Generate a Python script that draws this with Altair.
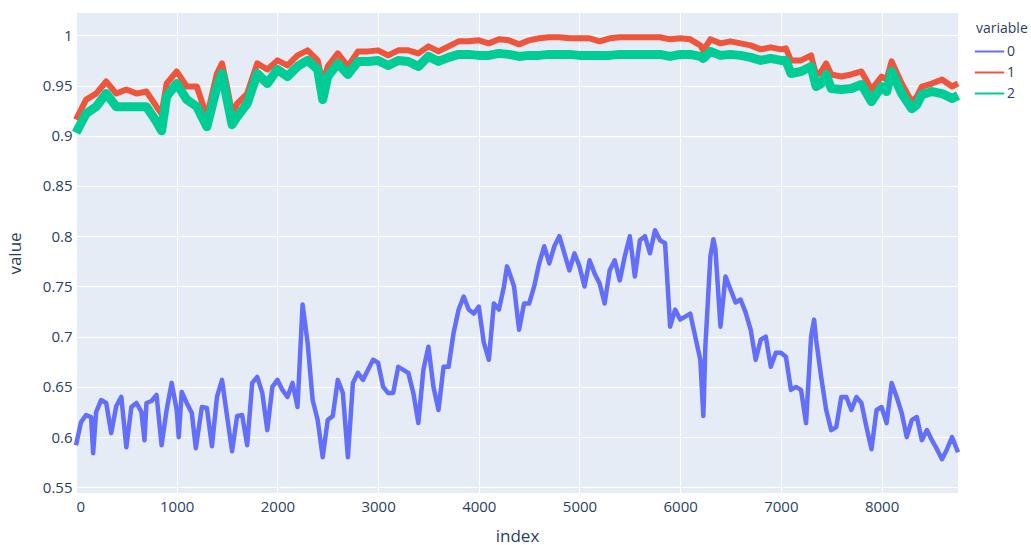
import altair as alt
import pandas as pd

# ---- data ----
blue_idx = [0, 50, 100, 150, 170, 200, 250, 300, 350, 400, 450, 500, 550, 600, 650, 680, 700, 750, 800, 850,
            900, 950, 1000, 1020, 1050, 1100, 1150, 1190, 1250, 1300, 1350, 1400, 1450, 1500, 1550, 1600, 1650,
            1700, 1750, 1800, 1850, 1900, 1950, 2000, 2050, 2100, 2150, 2200, 2250, 2300, 2350, 2400, 2450, 2500,
            2550, 2600, 2650, 2700, 2750, 2800, 2850, 2900, 2950, 3000, 3050, 3100, 3150, 3200, 3250, 3300, 3350,
            3400, 3450, 3500, 3550, 3600, 3650, 3700, 3750, 3800, 3850, 3900, 3950, 4000, 4050, 4100, 4150, 4200,
            4250, 4280, 4300, 4350, 4400, 4450, 4500, 4550, 4600, 4650, 4700, 4750, 4800, 4850, 4900, 4950, 5000,
            5050, 5100, 5150, 5200, 5250, 5300, 5350, 5400, 5450, 5500, 5550, 5600, 5650, 5700, 5750, 5800, 5850,
            5900, 5950, 6000, 6050, 6100, 6150, 6200, 6230, 6250, 6300, 6330, 6350, 6400, 6450, 6500, 6550, 6600,
            6650, 6700, 6750, 6800, 6850, 6900, 6950, 7000, 7050, 7100, 7150, 7200, 7250, 7300, 7330, 7350, 7400,
            7450, 7500, 7550, 7600, 7650, 7700, 7750, 7800, 7850, 7900, 7950, 8000, 8050, 8100, 8150, 8200, 8250,
            8300, 8350, 8400, 8450, 8500, 8550, 8600, 8650, 8700, 8759]
blue_val = [0.592, 0.615, 0.622, 0.620, 0.584, 0.625, 0.637, 0.634, 0.604, 0.631, 0.640, 0.590, 0.630, 0.634,
            0.625, 0.597, 0.634, 0.636, 0.642, 0.592, 0.627, 0.654, 0.627, 0.600, 0.645, 0.634, 0.624, 0.589,
            0.630, 0.629, 0.591, 0.640, 0.657, 0.621, 0.586, 0.621, 0.622, 0.592, 0.654, 0.660, 0.644, 0.607,
            0.650, 0.657, 0.647, 0.640, 0.654, 0.630, 0.732, 0.694, 0.637, 0.617, 0.580, 0.617, 0.621, 0.657,
            0.644, 0.580, 0.654, 0.664, 0.657, 0.667, 0.677, 0.674, 0.650, 0.644, 0.644, 0.670, 0.667, 0.664,
            0.644, 0.614, 0.667, 0.690, 0.650, 0.627, 0.670, 0.670, 0.704, 0.727, 0.740, 0.727, 0.723, 0.730,
            0.694, 0.677, 0.733, 0.727, 0.750, 0.770, 0.765, 0.750, 0.707, 0.733, 0.733, 0.750, 0.773, 0.790,
            0.773, 0.790, 0.800, 0.783, 0.766, 0.783, 0.770, 0.750, 0.776, 0.763, 0.753, 0.733, 0.766, 0.776,
            0.756, 0.780, 0.800, 0.760, 0.796, 0.800, 0.783, 0.806, 0.796, 0.793, 0.710, 0.727, 0.717, 0.720,
            0.723, 0.700, 0.677, 0.621, 0.690, 0.780, 0.797, 0.787, 0.710, 0.760, 0.747, 0.734, 0.737, 0.724,
            0.707, 0.677, 0.697, 0.700, 0.670, 0.684, 0.684, 0.680, 0.647, 0.650, 0.647, 0.614, 0.700, 0.717,
            0.697, 0.660, 0.627, 0.607, 0.610, 0.640, 0.640, 0.627, 0.640, 0.634, 0.610, 0.588, 0.627, 0.630,
            0.614, 0.654, 0.640, 0.624, 0.600, 0.617, 0.620, 0.597, 0.607, 0.597, 0.588, 0.578, 0.588, 0.600,
            0.585]

top_idx = [0, 100, 200, 300, 400, 500, 600, 700, 800, 850, 900, 1000, 1100, 1200, 1300, 1400, 1450, 1500, 1550,
           1600, 1700, 1800, 1900, 2000, 2100, 2200, 2300, 2400, 2450, 2500, 2600, 2700, 2800, 2900, 3000, 3100,
           3200, 3300, 3400, 3500, 3600, 3700, 3800, 3900, 4000, 4100, 4200, 4300, 4400, 4500, 4600, 4700, 4800,
           4900, 5000, 5100, 5200, 5300, 5400, 5500, 5600, 5700, 5800, 5900, 6000, 6100, 6200, 6230, 6300, 6400,
           6500, 6600, 6700, 6800, 6900, 7000, 7050, 7100, 7200, 7300, 7350, 7400, 7450, 7500, 7600, 7700, 7800,
           7900, 8000, 8050, 8100, 8200, 8300, 8350, 8400, 8500, 8600, 8700, 8759]
red_val = [0.916, 0.936, 0.942, 0.954, 0.942, 0.946, 0.942, 0.944, 0.929, 0.922, 0.952, 0.964, 0.949, 0.949,
           0.919, 0.962, 0.972, 0.949, 0.922, 0.932, 0.942, 0.972, 0.966, 0.975, 0.970, 0.980, 0.985, 0.975,
           0.952, 0.969, 0.982, 0.969, 0.984, 0.984, 0.985, 0.980, 0.985, 0.985, 0.982, 0.989, 0.984, 0.989,
           0.994, 0.994, 0.995, 0.992, 0.996, 0.995, 0.991, 0.995, 0.997, 0.998, 0.998, 0.997, 0.997, 0.997,
           0.994, 0.997, 0.998, 0.998, 0.998, 0.998, 0.998, 0.996, 0.997, 0.996, 0.990, 0.985, 0.996, 0.992,
           0.994, 0.992, 0.990, 0.986, 0.988, 0.986, 0.987, 0.975, 0.975, 0.980, 0.960, 0.964, 0.972, 0.961,
           0.959, 0.961, 0.964, 0.946, 0.959, 0.956, 0.974, 0.952, 0.934, 0.939, 0.949, 0.952, 0.956, 0.949,
           0.952]
green_val = [0.903, 0.922, 0.929, 0.942, 0.929, 0.929, 0.929, 0.929, 0.914, 0.905, 0.939, 0.952, 0.936, 0.929,
             0.909, 0.949, 0.962, 0.936, 0.911, 0.919, 0.932, 0.962, 0.952, 0.966, 0.959, 0.969, 0.975, 0.966,
             0.936, 0.959, 0.972, 0.961, 0.974, 0.974, 0.975, 0.970, 0.975, 0.974, 0.969, 0.979, 0.974, 0.978,
             0.981, 0.981, 0.980, 0.980, 0.982, 0.981, 0.979, 0.980, 0.980, 0.981, 0.981, 0.981, 0.980, 0.980,
             0.980, 0.980, 0.981, 0.981, 0.981, 0.981, 0.981, 0.979, 0.981, 0.981, 0.979, 0.977, 0.984, 0.980,
             0.981, 0.980, 0.978, 0.975, 0.977, 0.975, 0.975, 0.962, 0.964, 0.969, 0.949, 0.952, 0.961, 0.947,
             0.946, 0.947, 0.951, 0.934, 0.949, 0.944, 0.964, 0.942, 0.927, 0.931, 0.941, 0.944, 0.942, 0.937,
             0.940]

series_names = ["0", "1", "2"]
series_colors = ["#636EFA", "#EF553B", "#00CC96"]
y_ticks = [0.55, 0.6, 0.65, 0.7, 0.75, 0.8, 0.85, 0.9, 0.95, 1.0]
x_ticks = [0, 1000, 2000, 3000, 4000, 5000, 6000, 7000, 8000]

rows = []
for i, v in zip(blue_idx, blue_val):
    rows.append({"index": i, "value": v, "variable": "0"})
for i, v in zip(top_idx, red_val):
    rows.append({"index": i, "value": v, "variable": "1"})
for i, v in zip(top_idx, green_val):
    rows.append({"index": i, "value": v, "variable": "2"})
df = pd.DataFrame(rows)

FONT = "Open Sans"
TXT = "#2a3f5f"

base = alt.Chart(df).encode(
    x=alt.X("index:Q", scale=alt.Scale(domain=[0, 8759], nice=False, zero=False),
            axis=alt.Axis(values=x_ticks, format="d", title="index", grid=True, ticks=False,
                          domain=False, labelPadding=6, titlePadding=14)),
    y=alt.Y("value:Q", scale=alt.Scale(domain=[0.5444, 1.0222], nice=False, zero=False),
            axis=alt.Axis(values=y_ticks, format="~g", title="value", grid=True, ticks=False,
                          domain=False, labelPadding=4, titlePadding=18)),
    color=alt.Color("variable:N", scale=alt.Scale(domain=series_names, range=series_colors),
                    legend=alt.Legend(title="variable", orient="none", legendX=900, legendY=9,
                                      symbolType="M-1.2,0L1.2,0", symbolSize=600, symbolStrokeWidth=2,
                                      labelFontSize=14, titleFontSize=14, titleFontWeight="normal",
                                      labelColor=TXT, titleColor=TXT, labelFont=FONT, titleFont=FONT,
                                      rowPadding=0, titlePadding=2, labelOffset=4)),
    order=alt.Order("index:Q"),
)

widths = {"0": 4.5, "1": 6, "2": 9}
layers = [
    base.transform_filter(alt.datum.variable == s).mark_line(strokeWidth=widths[s], strokeJoin="round")
    for s in series_names
]

chart = alt.layer(*layers).properties(
    width=882, height=480,
    autosize=alt.AutoSizeParams(type="none"),
    padding={"left": 76, "top": 13, "right": 73, "bottom": 52},
    background="white",
).configure_view(
    fill="#E5ECF6", stroke=None
).configure_axis(
    gridColor="white", gridWidth=1, labelFont=FONT, titleFont=FONT, labelFontSize=15,
    titleFontSize=17, labelColor=TXT, titleColor=TXT, titleFontWeight="normal"
)

chart.save("out.html", embed_options={"renderer": "svg", "actions": False})
